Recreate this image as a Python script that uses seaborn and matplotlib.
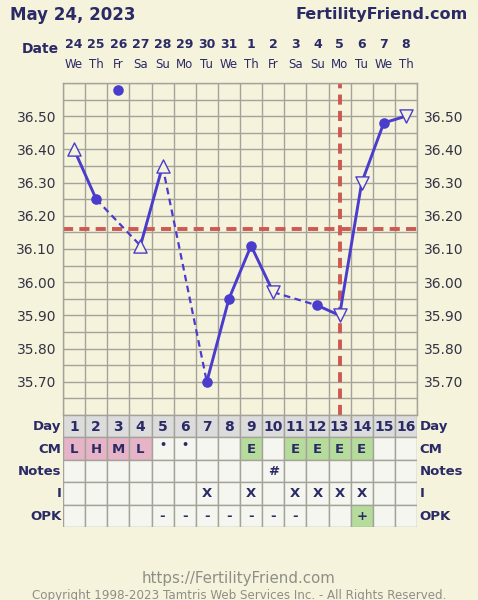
import numpy as np
import pandas as pd
import seaborn as sns
from matplotlib import pyplot as plt
from matplotlib import transforms

sns.set_theme(style="ticks")
plt.rcParams['font.family'] = ['DejaVu Sans']

# ---------------------------------
# chart data
days = list(range(1, 17))
dates = ['24', '25', '26', '27', '28', '29', '30', '31', '1', '2', '3', '4', '5', '6', '7', '8']
weekdays = ['We', 'Th', 'Fr', 'Sa', 'Su', 'Mo', 'Tu', 'We', 'Th', 'Fr', 'Sa', 'Su', 'Mo', 'Tu', 'We', 'Th']
temps = [36.40, 36.25, 36.58, 36.11, 36.35, np.nan, 35.70, 35.95,
         36.11, 35.97, np.nan, 35.93, 35.90, 36.30, 36.48, 36.50]
# dot = normal temp, up/down = open triangles, off = discarded temp
temp_kind = ['up', 'dot', 'off', 'up', 'up', '', 'dot', 'dot',
             'dot', 'down', '', 'dot', 'down', 'down', 'dot', 'down']
coverline = 36.16
ovulation_day = 13

cm = ['L', 'H', 'M', 'L', '•', '•', '', '', 'E', '', 'E', 'E', 'E', 'E', '', '']
notes = ['', '', '', '', '', '', '', '', '', '#', '', '', '', '', '', '']
intercourse = ['', '', '', '', '', '', 'X', '', 'X', '', 'X', 'X', 'X', 'X', '', '']
opk = ['', '', '', '', '-', '-', '-', '-', '-', '-', '-', '', '', '+', '', '']
row_labels = ['Day', 'CM', 'Notes', 'I', 'OPK']

# ---------------------------------
bg = '#f6f3dc'
navy = '#2a2a66'
blue = '#4a3ccc'
red = '#cc5a52'
gridc = '#a3a39a'
pink = '#e6b4c6'
green = '#b6dc9c'
cell = '#f6f6f0'
dayrow = '#dcdcdc'

fig = plt.figure(figsize=(4.78, 6.0), dpi=100, facecolor=bg)
ax = fig.add_axes([63 / 478, 1 - 415 / 600, 354 / 478, 332 / 600])
tab = fig.add_axes([63 / 478, 1 - 527 / 600, 354 / 478, 112 / 600])

df = pd.DataFrame({'day': days, 'temp': temps, 'kind': temp_kind})

# main chart
ax.set_facecolor(bg)
ax.set_xlim(0.5, 16.5)
ax.set_ylim(35.6, 36.6)
ax.set_xticks(np.arange(0.5, 17, 1))
ax.set_xticklabels([])
ax.set_yticks(np.round(np.arange(35.7, 36.51, 0.1), 2))
ax.set_yticks(np.round(np.arange(35.6, 36.61, 0.05), 2), minor=True)
ax.set_yticklabels([f'{v:.2f}' for v in np.arange(35.7, 36.51, 0.1)])
ax.grid(True, which='both', color=gridc, linewidth=1.0)
ax.tick_params(axis='both', which='both', length=0)
ax.tick_params(axis='y', labelright=True, labelsize=10, labelcolor='#333344', pad=5)
for s in ax.spines.values():
    s.set_color(gridc)
    s.set_linewidth(1.0)
ax.set_axisbelow(True)

# red lines
ax.axhline(coverline, color=red, lw=2.8, ls=(0, (2.6, 1.6)), zorder=2)
ax.axvline(ovulation_day, color=red, lw=2.8, ls=(0, (2.6, 1.6)), zorder=2)

# temperature line: solid for consecutive days, dashed across gaps
used = df[df['kind'].isin(['dot', 'up', 'down'])].reset_index(drop=True)
for i in range(len(used) - 1):
    a, b = used.iloc[i], used.iloc[i + 1]
    if b['day'] - a['day'] == 1:
        ax.plot([a['day'], b['day']], [a['temp'], b['temp']], color=blue, lw=2.1, zorder=3)
    else:
        ax.plot([a['day'], b['day']], [a['temp'], b['temp']], color=blue, lw=1.6,
                ls=(0, (3, 2)), zorder=3)

dots = df[df['kind'].isin(['dot', 'off'])]
sns.scatterplot(data=dots, x='day', y='temp', ax=ax, color=blue, s=58,
                edgecolor=blue, linewidth=0, zorder=4, legend=False)
ups = df[df['kind'] == 'up']
sns.scatterplot(data=ups, x='day', y='temp', ax=ax, marker='^', s=90, color=bg,
                edgecolor=blue, linewidth=1.0, zorder=4, legend=False)
downs = df[df['kind'] == 'down']
sns.scatterplot(data=downs, x='day', y='temp', ax=ax, marker='v', s=90, color=bg,
                edgecolor=blue, linewidth=1.0, zorder=4, legend=False)
ax.set_xlabel('')
ax.set_ylabel('')

# table below the chart
tab.set_xlim(0.5, 16.5)
tab.set_ylim(5, 0)
tab.axis('off')
cm_colors = [pink if c in 'LHM' and c else (green if c == 'E' else cell) for c in cm]
opk_colors = [green if o == '+' else cell for o in opk]
row_colors = [[dayrow] * 16, cm_colors, [cell] * 16, [cell] * 16, opk_colors]
for r, cols in enumerate(row_colors):
    tab.bar(days, 1, bottom=r, width=1, color=cols, edgecolor=gridc, linewidth=1.0)

row_text = [[str(d) for d in days], cm, notes, intercourse, opk]
for r, vals in enumerate(row_text):
    for d, v in zip(days, vals):
        if not v:
            continue
        if v == '•':
            tab.text(d, r + 0.34, v, ha='center', va='center', fontsize=8,
                     color=navy, fontweight='bold')
        else:
            tab.text(d, r + 0.52, v, ha='center', va='center',
                     fontsize=10 if r == 0 else 9.5, color=navy, fontweight='bold')
for r, lab in enumerate(row_labels):
    tab.text(0.42, r + 0.52, lab, ha='right', va='center', fontsize=9.5,
             color=navy, fontweight='bold')
    tab.text(16.62, r + 0.52, lab, ha='left', va='center', fontsize=9.5,
             color=navy, fontweight='bold')

# header
tr = transforms.blended_transform_factory(ax.transData, fig.transFigure)
for d, dt, wd in zip(days, dates, weekdays):
    ax.text(d, 1 - 44 / 600, dt, transform=tr, ha='center', va='center',
            fontsize=9, fontweight='bold', color=navy)
    ax.text(d, 1 - 65 / 600, wd, transform=tr, ha='center', va='center',
            fontsize=8.5, color=navy)
fig.text(40 / 478, 1 - 49 / 600, 'Date', ha='center', va='center', fontsize=10,
         fontweight='bold', color=navy)
fig.text(10 / 478, 1 - 15 / 600, 'May 24, 2023', ha='left', va='center',
         fontsize=12, fontweight='bold', color=navy)
fig.text(468 / 478, 1 - 15 / 600, 'FertilityFriend.com', ha='right', va='center',
         fontsize=11.5, fontweight='bold', color=navy)

# footer
fig.text(0.5, 1 - 578 / 600, 'https://FertilityFriend.com', ha='center', va='center',
         fontsize=10.8, color='#8e8e88')
fig.text(0.5, 1 - 595 / 600,
         'Copyright 1998-2023 Tamtris Web Services Inc. - All Rights Reserved.',
         ha='center', va='center', fontsize=8.6, color='#8e8e88')

plt.savefig('out.png', dpi=100, facecolor=bg)
plt.close()
